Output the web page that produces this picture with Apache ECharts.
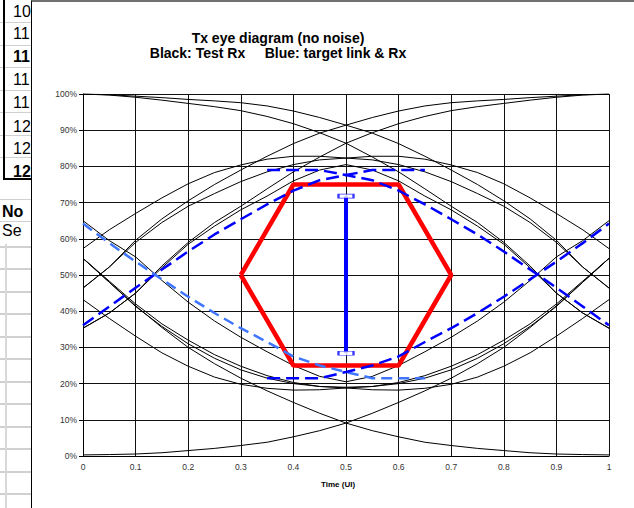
<!DOCTYPE html>
<html>
<head>
<meta charset="utf-8">
<script src="https://cdn.jsdelivr.net/npm/echarts@6.0.0/dist/echarts.min.js"></script>
<style>
  html, body { margin:0; padding:0; width:634px; height:508px; overflow:hidden; background:#fff; font-family: Arial, "Liberation Sans", sans-serif; }
  .cell { position:absolute; font-size:16px; line-height:22px; color:#000; }
  .hl { position:absolute; left:0; width:31px; height:1px; background:#d0d0d0; }
  #box { position:absolute; left:31px; top:0px; width:603px; height:508px; background:#fff; border-left:1px solid #000; border-top:2px solid #707070; }
  #main { position:absolute; left:0; top:0; width:634px; height:508px; }
</style>
</head>
<body>
<!-- spreadsheet behind the chart -->
<div class="hl" style="top:22px"></div>
<div class="hl" style="top:45px"></div>
<div class="hl" style="top:67px"></div>
<div class="hl" style="top:90px"></div>
<div class="hl" style="top:112px"></div>
<div class="hl" style="top:135px"></div>
<div class="hl" style="top:157px"></div>
<div style="position:absolute;left:3px;top:0;width:28px;height:178px;border-left:2px solid #000;border-bottom:2px solid #000;"></div>
<div class="cell" style="left:13px;top:1px">10</div>
<div class="cell" style="left:13px;top:23px">11</div>
<div class="cell" style="left:13px;top:46px;font-weight:bold">11</div>
<div class="cell" style="left:13px;top:69px">11</div>
<div class="cell" style="left:13px;top:92px">11</div>
<div class="cell" style="left:13px;top:116px">12</div>
<div class="cell" style="left:13px;top:138px">12</div>
<div class="cell" style="left:13px;top:161px;font-weight:bold">12</div>
<div class="hl" style="top:199px"></div>
<div class="hl" style="top:221px"></div>
<div class="cell" style="left:2px;top:201px;font-weight:bold">No</div>
<div class="cell" style="left:2px;top:220px">Se</div>
<div class="hl" style="top:246px;height:2px"></div>
<div class="hl" style="top:268px;height:2px"></div>
<div class="hl" style="top:291px;height:2px"></div>
<div class="hl" style="top:313px;height:2px"></div>
<div class="hl" style="top:336px;height:2px"></div>
<div class="hl" style="top:358px;height:2px"></div>
<div class="hl" style="top:381px;height:2px"></div>
<div class="hl" style="top:403px;height:2px"></div>
<div class="hl" style="top:426px;height:2px"></div>
<div class="hl" style="top:448px;height:2px"></div>
<div class="hl" style="top:471px;height:2px"></div>
<div class="hl" style="top:493px;height:2px"></div>
<div style="position:absolute;left:5px;top:244px;width:2px;height:264px;background:#d8d8d8"></div>
<div id="box"></div>
<div id="main"></div>
<script>
// time axis, 0..1 UI in 0.05 steps
var xs = [0, 0.05, 0.1, 0.15, 0.2, 0.25, 0.3, 0.35, 0.4, 0.45, 0.5,
          0.55, 0.6, 0.65, 0.7, 0.75, 0.8, 0.85, 0.9, 0.95, 1];

// black traces (Test Rx), values in %
var hiA  = [100, 99.8, 99.4, 99.0, 98.5, 98.1, 97.6, 96.7, 95.3, 93.5, 91.4, 89.2, 86.3, 82.8, 79.0, 75.0, 70.5, 65.5, 59.6, 52.2, 46.4];
var hiA2 = [46.4, 52.2, 59.6, 65.5, 70.5, 75.0, 79.0, 82.8, 86.3, 89.2, 91.4, 93.5, 95.3, 96.7, 97.6, 98.1, 98.5, 99.0, 99.4, 99.8, 100];
var hiB  = [100, 99.7, 99.1, 98.3, 97.4, 96.5, 95.4, 93.8, 91.8, 89.3, 86.4, 82.6, 78.5, 73.8, 69.0, 64.5, 59.0, 52.5, 45.0, 39.5, 35.3];
var hiB2 = [35.3, 39.5, 45.0, 52.5, 59.0, 64.5, 69.0, 73.8, 78.5, 82.6, 86.4, 89.3, 91.8, 93.8, 95.4, 96.5, 97.4, 98.3, 99.1, 99.7, 100];
var hiC  = [57.3, 62.5, 67.0, 71.3, 75.2, 78.3, 80.4, 82.0, 82.8, 82.8, 82.3, 81.8, 80.5, 78.5, 75.8, 72.5, 69.0, 64.5, 59.0, 52.2, 46.4];
var hiC2 = [46.4, 52.2, 59.0, 64.5, 69.0, 72.5, 75.8, 78.5, 80.5, 81.8, 82.3, 82.8, 82.8, 82.0, 80.4, 78.3, 75.2, 71.3, 67.0, 62.5, 57.3];
var hiD  = [35.3, 39.5, 45.0, 52.0, 58.5, 63.5, 68.0, 71.8, 76.0, 79.0, 80.5, 79.0, 76.0, 71.8, 68.0, 63.5, 58.5, 52.0, 45.0, 39.5, 35.3];
var loA  = [0.3, 0.4, 0.55, 0.9, 1.5, 2.1, 2.9, 3.8, 5.3, 7.0, 9.1, 11.8, 14.8, 18.0, 21.5, 25.5, 30.0, 35.5, 41.5, 48.0, 54.6];
var loA2 = [54.6, 48.0, 41.5, 35.5, 30.0, 25.5, 21.5, 18.0, 14.8, 11.8, 9.1, 7.0, 5.3, 3.8, 2.9, 2.1, 1.5, 0.9, 0.55, 0.4, 0.3];
var loC  = [43.2, 38.0, 33.1, 28.5, 24.8, 21.8, 19.8, 18.7, 18.2, 18.3, 18.8, 19.2, 20.3, 22.2, 24.8, 28.0, 32.0, 36.5, 42.0, 48.3, 54.6];
var loC2 = [54.6, 48.3, 42.0, 36.5, 32.0, 28.0, 24.8, 22.2, 20.3, 19.2, 18.8, 18.3, 18.2, 18.7, 19.8, 21.8, 24.8, 28.5, 33.1, 38.0, 43.2];
var loD  = [54.6, 48.0, 41.3, 35.8, 31.0, 27.0, 23.8, 21.5, 20.0, 19.2, 19.0, 19.2, 20.0, 21.5, 23.8, 27.0, 31.0, 35.8, 41.3, 48.0, 54.6];
var loE  = [65.0, 59.5, 55.0, 48.5, 42.5, 37.3, 32.8, 28.8, 25.0, 22.0, 20.5, 22.0, 25.0, 28.8, 32.8, 37.3, 42.5, 48.5, 55.0, 59.5, 65.0];

// blue dashed traces (target link & Rx)
var bxLeft  = [0, 0.05, 0.1, 0.15, 0.2, 0.25, 0.3, 0.35, 0.4, 0.45, 0.5, 0.55, 0.6, 0.65];
var bxRight = [0.35, 0.4, 0.45, 0.5, 0.55, 0.6, 0.65, 0.7, 0.75, 0.8, 0.85, 0.9, 0.95, 1];
var blueUpL = [36.1, 41.3, 46.5, 51.5, 56.5, 61.2, 65.4, 69.5, 73.3, 76.2, 77.6, 79.0, 79.0, 79.0];
var blueUpR = [79.0, 79.0, 79.0, 77.6, 76.2, 73.3, 69.5, 65.4, 61.2, 56.5, 51.5, 46.5, 41.3, 36.1];
var blueLoL = [64.2, 58.8, 53.7, 48.8, 44.0, 39.5, 35.3, 31.5, 27.5, 25.0, 23.2, 21.5, 21.5, 21.5];
var blueLoR = [21.5, 21.5, 21.5, 23.2, 25.0, 27.5, 31.5, 35.3, 39.5, 44.0, 48.8, 53.7, 58.8, 64.2];

// red eye mask
var maskX = [0.3, 0.4, 0.6, 0.7, 0.6, 0.4, 0.3];
var maskY = [50, 75, 75, 50, 25, 25, 50];

// blue eye opening bar
var barX = [0.5, 0.5];
var barY = [28.4, 71.8];

function pts(x, y) {
  return x.map(function (v, i) { return [v, y[i]]; });
}

var chart = echarts.init(document.getElementById('main'), null, { renderer: 'svg' });

var series = [];
[hiA, hiA2, hiB, hiB2, hiC, hiC2, hiD, loA, loA2, loC, loC2, loD, loE].forEach(function (t) {
  series.push({
    type: 'line', data: pts(xs, t), symbol: 'none', z: 2,
    lineStyle: { color: '#000', width: 1 }
  });
});
series.push({
  type: 'line', data: pts(maskX, maskY), symbol: 'none', z: 3,
  lineStyle: { color: '#ff0000', width: 4.5 }
});
series.push({
  type: 'line', data: pts(bxLeft, blueUpL), symbol: 'none', z: 4,
  lineStyle: { color: '#0000ff', width: 2.5, type: [13, 6] }
});
series.push({
  type: 'line', data: pts(bxRight, blueUpR), symbol: 'none', z: 4,
  lineStyle: { color: '#0000ff', width: 2.5, type: [13, 6] }
});
series.push({
  type: 'line', data: pts(bxLeft, blueLoL), symbol: 'none', z: 4,
  lineStyle: { color: '#3f76ff', width: 2.5, type: [11, 6] }
});
series.push({
  type: 'line', data: pts(bxRight, blueLoR), symbol: 'none', z: 4,
  lineStyle: { color: '#0000ff', width: 2.5, type: [13, 6] }
});
series.push({
  type: 'line', data: pts(barX, barY), symbol: 'none', z: 5,
  lineStyle: { color: '#0000ff', width: 4 }
});
series.push({
  type: 'scatter', data: pts(barX, barY), symbol: 'rect', symbolSize: [15, 4], z: 6,
  itemStyle: { color: '#fff', borderColor: '#0000ff', borderWidth: 1.2 }
});

var titleFont = 'Arial, "Liberation Sans", sans-serif';

chart.setOption({
  animation: false,
  textStyle: { fontFamily: titleFont },
  grid: { left: 83, right: 25, top: 94, bottom: 52 },
  xAxis: {
    type: 'value', min: 0, max: 1, interval: 0.1,
    axisLine: { show: true, onZero: false, lineStyle: { color: '#000', width: 1 } },
    axisTick: { show: false },
    axisLabel: { color: '#333', fontSize: 8.5, margin: 6 },
    splitLine: { show: true, lineStyle: { color: '#111', width: 1 } }
  },
  yAxis: {
    type: 'value', min: 0, max: 100, interval: 10,
    axisLine: { show: true, lineStyle: { color: '#000', width: 1 } },
    axisTick: { show: true, length: 4, lineStyle: { color: '#000' } },
    axisLabel: { color: '#333', fontSize: 8.5, margin: 6, formatter: '{value}%' },
    splitLine: { show: true, lineStyle: { color: '#111', width: 1 } }
  },
  graphic: [
    { type: 'text', x: 278, y: 38, style: { text: 'Tx eye diagram (no noise)', fontSize: 14, fontWeight: 'bold', fill: '#000', textAlign: 'center', textVerticalAlign: 'middle', fontFamily: titleFont } },
    { type: 'text', x: 278, y: 53, style: { text: 'Black: Test Rx     Blue: target link & Rx', fontSize: 14, fontWeight: 'bold', fill: '#000', textAlign: 'center', textVerticalAlign: 'middle', fontFamily: titleFont } },
    { type: 'text', x: 338, y: 484, style: { text: 'Time (UI)', fontSize: 8, fontWeight: 'bold', fill: '#000', textAlign: 'center', textVerticalAlign: 'middle', fontFamily: titleFont } }
  ],
  series: series
});
</script>
</body>
</html>
